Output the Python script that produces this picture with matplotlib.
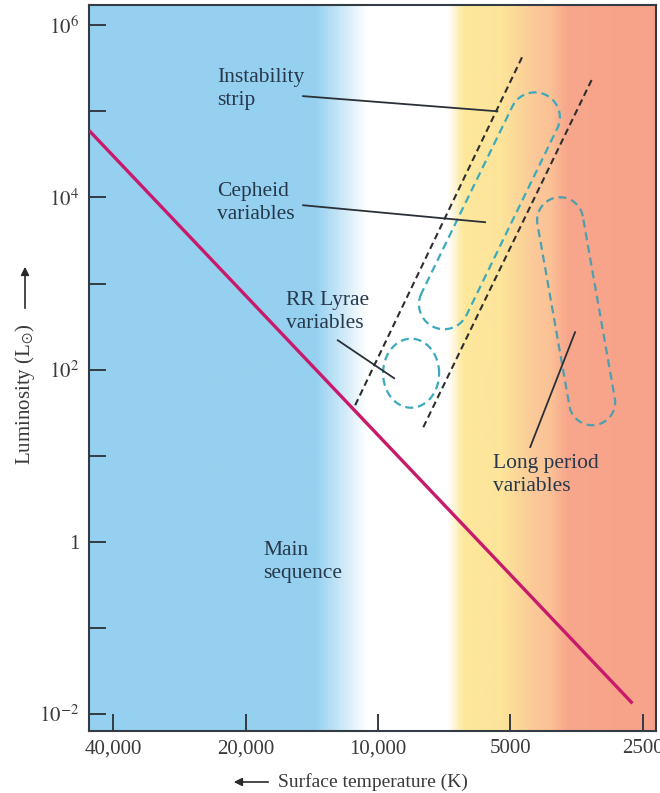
import numpy as np
import matplotlib
matplotlib.use("Agg")
import matplotlib.pyplot as plt
from matplotlib.colors import LinearSegmentedColormap

# H-R diagram values (temperature in K, luminosity in solar units)
ms_temp = [45400, 2640]
ms_lum = [6.0e4, 1.33e-2]

strip_hot_temp = [11270, 4680]
strip_hot_lum = [38.6, 4.5e5]
strip_cool_temp = [7890, 3245]
strip_cool_lum = [21.4, 2.5e5]

cepheid_temp = [7080, 4400]
cepheid_lum = [575, 8.5e4]
lpv_temp = [3855, 3260]
lpv_lum = [5430, 41.8]
rr_temp = 8410
rr_lum = 90.8

xticks = [40000, 20000, 10000, 5000, 2500]
xticklabels = ["40,000", "20,000", "10,000", "5000", "2500"]
yticks = [1e-2, 1e-1, 1, 1e1, 1e2, 1e3, 1e4, 1e5, 1e6]
yticklabels = [r"$10^{-2}$", "", "1", "", r"$10^{2}$", "", r"$10^{4}$", "", r"$10^{6}$"]

plt.rcParams['font.family'] = ['Liberation Serif', 'DejaVu Serif']
plt.rcParams['mathtext.fontset'] = 'stix'

txt = '#26384a'
dark = '#333b44'

fig = plt.figure(figsize=(6.6, 7.93), dpi=100)
ax = fig.add_axes([0.1348, 0.0782, 0.859, 0.915])
ax.set_xscale('log')
ax.set_yscale('log')
ax.set_xlim(45400, 2335)
ax.set_ylim(10 ** -2.197, 10 ** 6.23)

# colour bands behind the diagram
cmap = LinearSegmentedColormap.from_list('bands', [
    (0.0, '#95d0f0'), (0.40, '#97d1f0'), (0.49, '#ffffff'), (0.635, '#ffffff'),
    (0.66, '#fde89c'), (0.73, '#fde49a'), (0.79, '#fbc898'), (0.815, '#fbc296'),
    (0.845, '#f8a68c'), (1.0, '#f7a28a')])
ax.imshow(np.linspace(0, 1, 600)[None, :], cmap=cmap, aspect='auto',
          extent=[0, 1, 0, 1], transform=ax.transAxes, zorder=0)

ax.plot(ms_temp, ms_lum, color='#c81a6a', lw=2.4, zorder=3, solid_capstyle='butt')

dash_kw = dict(color='#2e2e2e', lw=1.5, dashes=(3.2, 2.0), zorder=2)
ax.plot(strip_hot_temp, strip_hot_lum, **dash_kw)
ax.plot(strip_cool_temp, strip_cool_lum, **dash_kw)

fig.canvas.draw()


def stadium(p1, p2, r, n=60):
    # rounded loop around the segment p1-p2, built in pixels
    a = ax.transData.transform(p1)
    b = ax.transData.transform(p2)
    d = b - a
    ang = np.arctan2(d[1], d[0])
    t1 = np.linspace(ang + np.pi / 2, ang + 3 * np.pi / 2, n)
    t2 = np.linspace(ang - np.pi / 2, ang + np.pi / 2, n)
    pts = np.vstack([a + r * np.c_[np.cos(t1), np.sin(t1)],
                     b + r * np.c_[np.cos(t2), np.sin(t2)]])
    pts = np.vstack([pts, pts[:1]])
    return ax.transData.inverted().transform(pts)


def ellipse(c, w, h, n=120):
    cc = ax.transData.transform(c)
    t = np.linspace(0, 2 * np.pi, n)
    pts = cc + np.c_[w / 2 * np.cos(t), h / 2 * np.sin(t)]
    return ax.transData.inverted().transform(pts)


loop_kw = dict(color='#3aaabd', lw=1.6, dashes=(3.6, 2.2), zorder=2)
c = stadium((cepheid_temp[0], cepheid_lum[0]), (cepheid_temp[1], cepheid_lum[1]), 25)
ax.plot(c[:, 0], c[:, 1], **loop_kw)
c = stadium((lpv_temp[0], lpv_lum[0]), (lpv_temp[1], lpv_lum[1]), 23)
ax.plot(c[:, 0], c[:, 1], **dict(loop_kw, color='#4e9fae'))
c = ellipse((rr_temp, rr_lum), 56, 69)
ax.plot(c[:, 0], c[:, 1], **loop_kw)

# labels and leader lines
lab_kw = dict(color=txt, fontsize=15.5, va='center', ha='left', linespacing=1.3)
lead_kw = dict(color='#2b3038', lw=1.3, zorder=4)
ax.text(23200, 1.81e5, "Instability\nstrip", **lab_kw)
ax.plot([14800, 5354], [1.50e5, 1.00e5], **lead_kw)
ax.text(23200, 8570, "Cepheid\nvariables", **lab_kw)
ax.plot([14800, 5710], [8110, 5150], **lead_kw)
ax.text(16170, 464, "RR Lyrae\nvariables", **lab_kw)
ax.plot([12340, 9190], [219, 79.4], **lead_kw)
ax.text(5470, 5.93, "Long period\nvariables", **lab_kw)
ax.plot([3565, 4508], [272, 12.6], **lead_kw)
ax.text(18240, 0.579, "Main\nsequence", **lab_kw)

ax.set_xticks(xticks)
ax.set_xticklabels(xticklabels)
ax.set_xticks([], minor=True)
ax.set_yticks(yticks)
ax.set_yticklabels(yticklabels)
ax.set_yticks([], minor=True)
ax.tick_params(direction='in', length=12, width=1.4, color=dark,
               labelsize=15, labelcolor='#3a3a3a')
ax.tick_params(axis='x', pad=6)
ax.tick_params(axis='y', pad=7)
for s in ax.spines.values():
    s.set_color(dark)
    s.set_linewidth(1.5)

# axis titles with arrows
fig.text(25 / 660, 1 - 394 / 793, r"Luminosity (L$_{\odot}$)", rotation=90,
         ha='center', va='center', fontsize=15, color='#3a3a3a')
fig.text(278 / 660, 1 - 782 / 793, "Surface temperature (K)",
         ha='left', va='center', fontsize=14, color='#3a3a3a')
arrow = dict(arrowstyle='-|>', color='#2a2a2a', lw=1.2, mutation_scale=12)
ax.annotate('', xy=(231 / 660, 1 - 782 / 793), xytext=(271 / 660, 1 - 782 / 793),
            xycoords='figure fraction', textcoords='figure fraction',
            arrowprops=arrow, annotation_clip=False)
ax.annotate('', xy=(25 / 660, 1 - 264 / 793), xytext=(25 / 660, 1 - 311 / 793),
            xycoords='figure fraction', textcoords='figure fraction',
            arrowprops=arrow, annotation_clip=False)

fig.savefig('out.png', dpi=100)
